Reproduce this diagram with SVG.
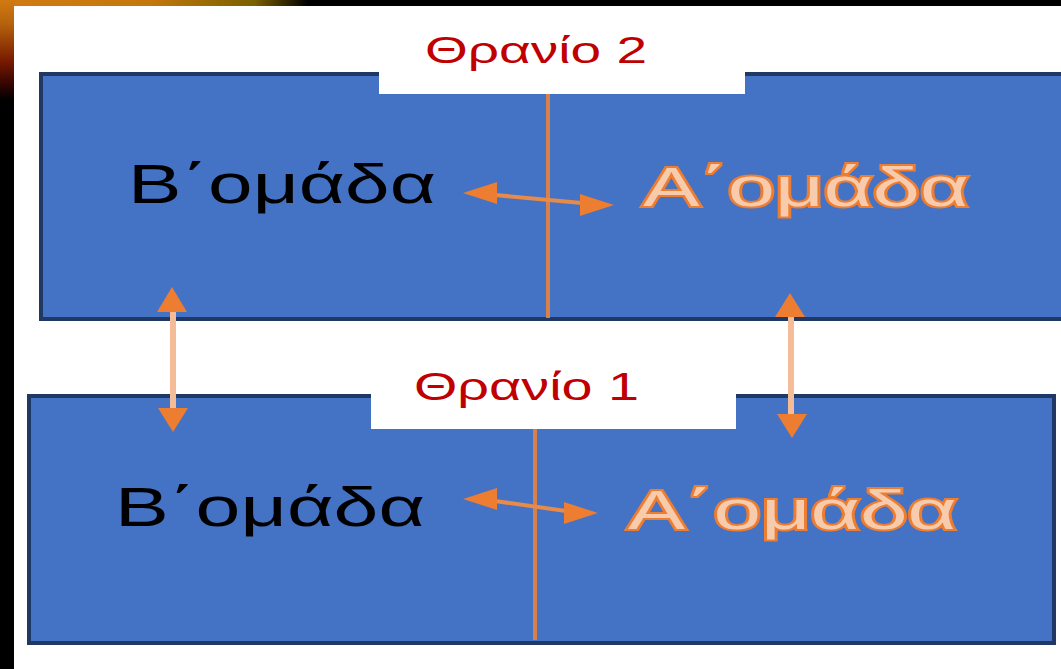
<svg xmlns="http://www.w3.org/2000/svg" width="1061" height="669" viewBox="0 0 1061 669">
<defs>
<linearGradient id="gTop" x1="0" y1="0" x2="1" y2="0" gradientUnits="objectBoundingBox">
<stop offset="0" stop-color="#D27A12"/>
<stop offset="0.14" stop-color="#C4780C"/>
<stop offset="0.24" stop-color="#7A6000"/>
<stop offset="0.29" stop-color="#000"/>
<stop offset="1" stop-color="#000"/>
</linearGradient>
<linearGradient id="gLeft" x1="0" y1="0" x2="0" y2="1">
<stop offset="0" stop-color="#D27A12"/>
<stop offset="0.12" stop-color="#B5620C"/>
<stop offset="0.3" stop-color="#7A1C00"/>
<stop offset="0.42" stop-color="#350500"/>
<stop offset="0.5" stop-color="#000"/>
<stop offset="1" stop-color="#000"/>
</linearGradient>
<style>
.desk{fill:#4472C4;stroke:#1F3864;stroke-width:4}
.lbl{fill:#fff}
.title{font-family:"Liberation Sans","Open Sans",sans-serif;fill:#C00000}
.grpB{font-family:"Liberation Sans","Open Sans",sans-serif;font-size:56px;fill:#000}
.grpA{font-family:"Liberation Sans","Open Sans",sans-serif;font-size:56px;fill:#F8CBAD;stroke:#ED7D31;stroke-width:4;paint-order:stroke}
.div{stroke:#D6804C;stroke-width:4}
.hl{stroke:#E88A4A;stroke-width:4;fill:none}
.vl{stroke:#F5BC98;stroke-width:6;fill:none}
.ah{fill:#ED7D31}
</style>
</defs>
<rect x="0" y="0" width="1061" height="669" fill="#000"/>
<rect x="0" y="0" width="1061" height="6" fill="url(#gTop)"/>
<rect x="0" y="0" width="14" height="200" fill="url(#gLeft)"/>
<rect x="14" y="6" width="1047" height="663" fill="#fff"/>

<g id="desk2">
<rect class="desk" x="41" y="74" width="1030" height="245"/>
<rect class="lbl" x="379" y="60" width="366" height="34"/>
<text class="title" x="425" y="63" font-size="36" textLength="222" lengthAdjust="spacingAndGlyphs">Θρανίο 2</text>
<line class="div" x1="548" y1="94" x2="548" y2="318"/>
<text class="grpB" x="128" y="203" textLength="308" lengthAdjust="spacingAndGlyphs">Β΄ομάδα</text>
<text class="grpA" x="643" y="206" textLength="326" lengthAdjust="spacingAndGlyphs">Α΄ομάδα</text>
</g>

<g id="desk1">
<rect class="desk" x="29" y="396" width="1025" height="247"/>
<rect class="lbl" x="371" y="378" width="365" height="51"/>
<text class="title" x="414" y="400" font-size="38" textLength="225" lengthAdjust="spacingAndGlyphs">Θρανίο 1</text>
<line class="div" x1="535" y1="429" x2="535" y2="640"/>
<text class="grpB" x="115" y="526" textLength="310" lengthAdjust="spacingAndGlyphs">Β΄ομάδα</text>
<text class="grpA" x="628" y="529" textLength="329" lengthAdjust="spacingAndGlyphs">Α΄ομάδα</text>
</g>

<g id="connectors">
<line class="hl" x1="495" y1="195" x2="582" y2="203"/>
<polygon class="ah" points="463,193 497,182 497,204"/>
<polygon class="ah" points="614,205 580,194 580,216"/>
<line class="hl" x1="495" y1="501" x2="566" y2="511"/>
<polygon class="ah" points="463,499 497,488 497,510"/>
<polygon class="ah" points="598,513 564,502 564,524"/>
<line class="vl" x1="173" y1="310" x2="173" y2="410"/>
<polygon class="ah" points="172,287 157,312 187,312"/>
<polygon class="ah" points="173,432 158,408 188,408"/>
<line class="vl" x1="791" y1="315" x2="791" y2="417"/>
<polygon class="ah" points="790,293 775,317 805,317"/>
<polygon class="ah" points="792,438 777,414 807,414"/>
</g>
</svg>
